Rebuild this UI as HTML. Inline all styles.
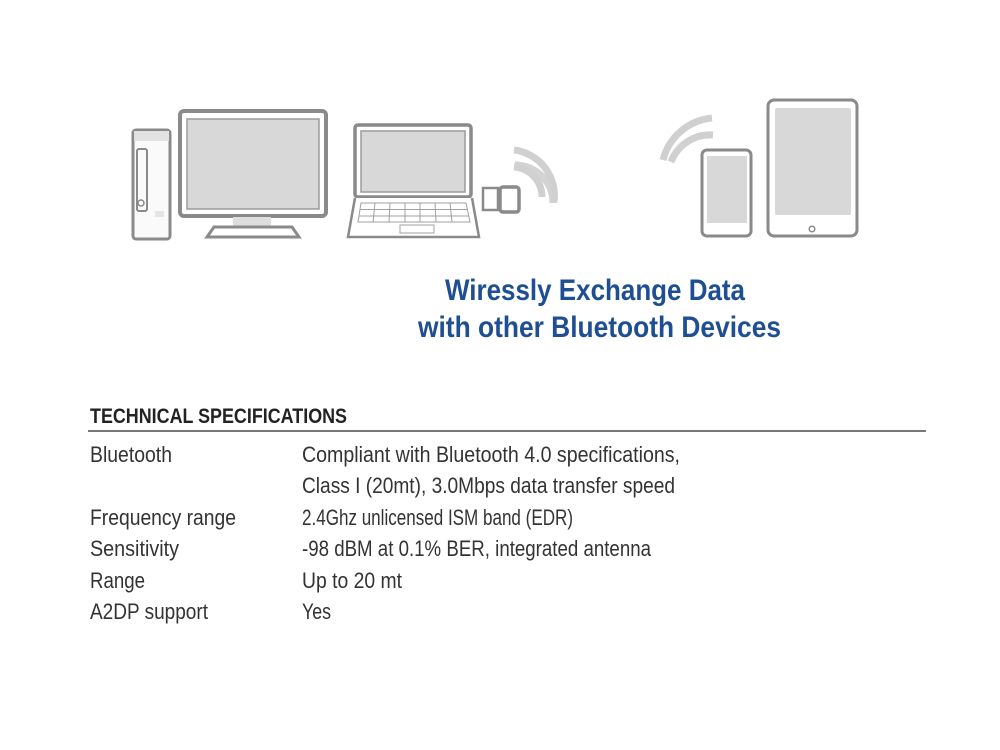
<!DOCTYPE html>
<html><head><meta charset="utf-8"><style>html,body{margin:0;padding:0;background:#fff}svg{display:block}</style></head>
<body>
<svg width="1000" height="750" viewBox="0 0 1000 750" xmlns="http://www.w3.org/2000/svg">
<g fill="none" stroke="#8a8a8a" stroke-width="3">
<!-- tower -->
<rect x="133" y="130" width="37" height="109" rx="3" fill="#fafafa"/>
<rect x="134" y="131" width="35" height="10" fill="#e2e2e2" stroke="none"/>
<rect x="137" y="149" width="10" height="62" rx="2" stroke-width="2"/>
<circle cx="141" cy="203" r="3" stroke-width="1.5"/>
<rect x="155" y="211" width="9" height="6" fill="#e5e5e5" stroke="none"/>
<!-- monitor -->
<rect x="180" y="111" width="146" height="105" rx="4" fill="#fff" stroke-width="4"/>
<rect x="187" y="119" width="132" height="90" fill="#d8d8d8" stroke="#9a9a9a" stroke-width="1.5"/>
<rect x="233" y="217" width="38" height="10" fill="#dedede" stroke="none"/>
<path d="M214 227 H292 L299 237 H207 Z" fill="#fff"/>
<!-- laptop -->
<rect x="355" y="125" width="116" height="72" rx="3" fill="#fff" stroke-width="3.5"/>
<rect x="361" y="131" width="104" height="61" fill="#d8d8d8" stroke="#9a9a9a" stroke-width="1.5"/>
<path d="M355 198 L348 237 H479 L472 198" fill="#fff" stroke-width="2.5"/>
<g stroke="#a0a0a0" stroke-width="1">
<path d="M361 203 H466 L470 222 H358 Z"/>
<path d="M360 209.5 H468 M359 216 H469"/>
<path d="M375 203 L373 222 M390 203 L389 222 M405 203 L405 222 M420 203 L420 222 M435 203 L436 222 M450 203 L452 222"/>
<rect x="400" y="225" width="34" height="8"/>
</g>
<!-- dongle -->
<rect x="483" y="188" width="15" height="22" stroke-width="2.5"/>
<rect x="500" y="187" width="19" height="25" rx="3" stroke-width="3.5"/>
</g>
<g fill="none" stroke="#d3d3d3" stroke-width="7">
<path d="M515 165 A38 38 0 0 1 553 203"/>
<path d="M515 150 A50 50 0 0 1 556 172" stroke="none"/>
<path d="M513 148 A58 58 0 0 1 553 200" stroke="none"/>
</g>
<g fill="none" stroke="#d0d0d0" stroke-width="7" stroke-linecap="butt">
<path d="M514 167 A30 30 0 0 1 542 197"/>
<path d="M514 150 A46 46 0 0 1 554 202"/>
<path d="M713 135 A42 42 0 0 0 671 162"/>
<path d="M712 118 A56 56 0 0 0 663 160"/>
</g>
<g fill="none" stroke="#8a8a8a">
<rect x="702" y="150" width="49" height="86" rx="5" fill="#fff" stroke-width="3"/>
<rect x="707" y="156" width="40" height="67" fill="#d8d8d8" stroke="none"/>
<rect x="768" y="100" width="89" height="136" rx="6" fill="#fff" stroke-width="3"/>
<rect x="775" y="108" width="76" height="107" rx="2" fill="#d8d8d8" stroke="none"/>
<circle cx="812" cy="229" r="2.8" stroke-width="1.5"/>
</g>
<g font-family="'Liberation Sans Narrow','Liberation Sans',sans-serif">
<g fill="#1f4f93" font-weight="bold" font-size="30">
<text x="445" y="300" textLength="300" lengthAdjust="spacingAndGlyphs">Wiressly Exchange Data</text>
<text x="418" y="337" textLength="363" lengthAdjust="spacingAndGlyphs">with other Bluetooth Devices</text>
</g>
<text x="90" y="423" font-size="21" font-weight="bold" fill="#222" textLength="257" lengthAdjust="spacingAndGlyphs">TECHNICAL SPECIFICATIONS</text>
<rect x="88" y="430" width="838" height="2" fill="#777"/>
<g fill="#333" font-size="22">
<text x="90" y="462" textLength="82" lengthAdjust="spacingAndGlyphs">Bluetooth</text>
<text x="302" y="462" textLength="378" lengthAdjust="spacingAndGlyphs">Compliant with Bluetooth 4.0 specifications,</text>
<text x="302" y="493" textLength="373" lengthAdjust="spacingAndGlyphs">Class I (20mt), 3.0Mbps data transfer speed</text>
<text x="90" y="525" textLength="146" lengthAdjust="spacingAndGlyphs">Frequency range</text>
<text x="302" y="525" textLength="271" lengthAdjust="spacingAndGlyphs">2.4Ghz unlicensed ISM band (EDR)</text>
<text x="90" y="556" textLength="89" lengthAdjust="spacingAndGlyphs">Sensitivity</text>
<text x="302" y="556" textLength="349" lengthAdjust="spacingAndGlyphs">-98 dBM at 0.1% BER, integrated antenna</text>
<text x="90" y="588" textLength="55" lengthAdjust="spacingAndGlyphs">Range</text>
<text x="302" y="588" textLength="100" lengthAdjust="spacingAndGlyphs">Up to 20 mt</text>
<text x="90" y="619" textLength="118" lengthAdjust="spacingAndGlyphs">A2DP support</text>
<text x="302" y="619" textLength="29" lengthAdjust="spacingAndGlyphs">Yes</text>
</g>
</g>
</svg>
</body></html>
